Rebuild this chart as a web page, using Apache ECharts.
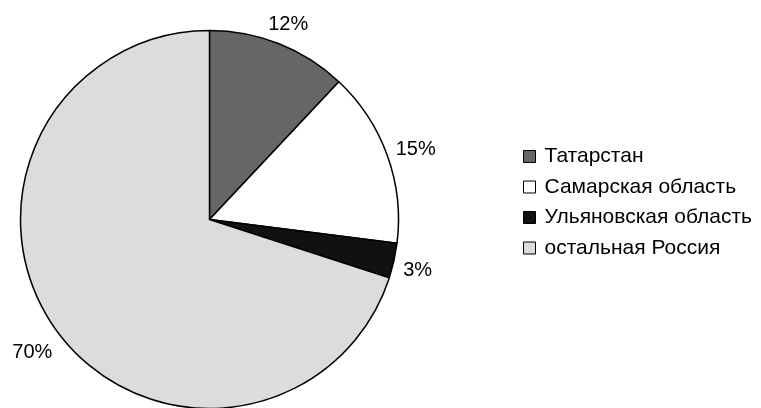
<!DOCTYPE html>
<html lang="ru">
    <head>
        <title>Pie</title>
        <meta charset="utf-8">
        <script src='https://cdn.jsdelivr.net/npm/echarts@6/dist/echarts.min.js'></script>
    </head>

    <style>
        html, body, #main {
            width: 100%;
            height: 100%;
            margin: 0;
            background: #fff;
        }
    </style>

    <body>
        <div id='main'></div>

        <script>
            const regions = ['Татарстан', 'Самарская область', 'Ульяновская область', 'остальная Россия'];
            const shares = [12, 15, 3, 70];
            const colors = ['#666666', '#ffffff', '#111111', '#dcdcdc'];

            const chart = echarts.init(document.getElementById('main'));

            const data = regions.map(function (name, i) {
                return { name: name, value: shares[i], itemStyle: { color: colors[i] } };
            });

            const cx = 209.5, cy = 219.5, r = 189;
            const total = shares.reduce(function (a, b) { return a + b; }, 0);

            // put each percent label just outside the slice, centred on its mid angle
            const placeLabel = function (params) {
                let before = 0;
                for (let i = 0; i < params.dataIndex; i++) before += shares[i];
                const mid = (before + shares[params.dataIndex] / 2) / total * Math.PI * 2;
                const s = Math.sin(mid), c = Math.cos(mid);
                const hw = params.labelRect.width / 2, hh = params.labelRect.height / 2;
                const d = r + 8 + Math.abs(s) * hw + Math.abs(c) * hh;
                return {
                    x: cx + s * d,
                    y: cy - c * d + 4,
                    align: 'center',
                    verticalAlign: 'middle'
                };
            };

            const option = {
                animation: false,
                legend: {
                    orient: 'vertical',
                    left: 523,
                    top: 146,
                    padding: 0,
                    icon: 'rect',
                    itemWidth: 12,
                    itemHeight: 12,
                    itemGap: 9.5,
                    itemStyle: { borderColor: '#000', borderWidth: 1 },
                    textStyle: {
                        fontSize: 21,
                        lineHeight: 20,
                        color: '#000',
                        fontFamily: 'Liberation Sans',
                        padding: [0, 0, 0, 4]
                    },
                    data: regions
                },
                series: [ {
                    type: 'pie',
                    center: [cx, cy],
                    radius: r,
                    startAngle: 90,
                    clockwise: true,
                    itemStyle: { borderColor: '#000', borderWidth: 1.5 },
                    label: {
                        show: true,
                        position: 'outside',
                        formatter: '{c}%',
                        fontSize: 20,
                        lineHeight: 20,
                        fontFamily: 'Liberation Sans',
                        overflow: 'none',
                        color: '#000'
                    },
                    labelLine: { show: false, length: 10, length2: 0 },
                    labelLayout: placeLabel,
                    emphasis: { disabled: true },
                    data: data
                } ]
            };

            chart.setOption(option);

            window.onresize = function () {
                chart.resize();
            }
        </script>
    </body>
</html>
